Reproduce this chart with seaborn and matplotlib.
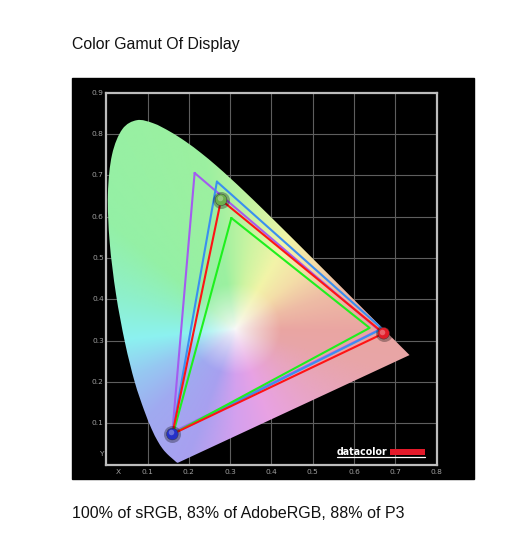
import numpy as np
import pandas as pd
import matplotlib
matplotlib.use("Agg")
import matplotlib.pyplot as plt
from matplotlib.patches import PathPatch, Rectangle
from matplotlib.path import Path
import seaborn as sns

# ---------------- data ----------------
# CIE 1931 spectral locus (x, y), 380-700 nm
locus_x = [0.1741, 0.1740, 0.1738, 0.1736, 0.1733, 0.1730, 0.1726, 0.1721, 0.1714, 0.1703,
           0.1689, 0.1669, 0.1644, 0.1611, 0.1566, 0.1510, 0.1440, 0.1355, 0.1241, 0.1096,
           0.0913, 0.0687, 0.0454, 0.0235, 0.0082, 0.0039, 0.0139, 0.0389, 0.0743, 0.1142,
           0.1547, 0.1929, 0.2296, 0.2658, 0.3016, 0.3373, 0.3731, 0.4087, 0.4441, 0.4788,
           0.5125, 0.5448, 0.5752, 0.6029, 0.6270, 0.6482, 0.6658, 0.6801, 0.6915, 0.7006,
           0.7079, 0.7140, 0.7190, 0.7230, 0.7260, 0.7283, 0.7300, 0.7311, 0.7320, 0.7334, 0.7347]
locus_y = [0.0050, 0.0050, 0.0049, 0.0049, 0.0048, 0.0048, 0.0048, 0.0048, 0.0051, 0.0058,
           0.0069, 0.0086, 0.0109, 0.0138, 0.0177, 0.0227, 0.0297, 0.0399, 0.0578, 0.0868,
           0.1327, 0.2007, 0.2950, 0.4127, 0.5384, 0.6548, 0.7502, 0.8120, 0.8338, 0.8262,
           0.8059, 0.7816, 0.7543, 0.7243, 0.6923, 0.6589, 0.6245, 0.5896, 0.5547, 0.5202,
           0.4866, 0.4544, 0.4242, 0.3965, 0.3725, 0.3514, 0.3340, 0.3197, 0.3083, 0.2993,
           0.2920, 0.2859, 0.2809, 0.2770, 0.2740, 0.2717, 0.2700, 0.2689, 0.2680, 0.2666, 0.2653]

gamut_names = ["AdobeRGB", "P3", "sRGB", "Display"]
gamut_x = {
    "AdobeRGB": [0.214, 0.660, 0.160],
    "P3":       [0.268, 0.668, 0.160],
    "sRGB":     [0.303, 0.638, 0.162],
    "Display":  [0.278, 0.672, 0.160],
}
gamut_y = {
    "AdobeRGB": [0.706, 0.326, 0.078],
    "P3":       [0.685, 0.329, 0.074],
    "sRGB":     [0.597, 0.331, 0.075],
    "Display":  [0.641, 0.318, 0.074],
}
gamut_colors = {"AdobeRGB": "#a35cf0", "P3": "#3a8ff0", "sRGB": "#1ef01e", "Display": "#ff1414"}
ball_colors = ["#6cb04c", "#e01c28", "#2430c8"]  # display green, red, blue primaries

# hue palette of the chromaticity fill (angle around white point -> RGB)
hue_angles = [0, 20, 40, 60, 80, 100, 140, 165, 185, 205, 225, 250, 270, 290, 320, 345, 360]
hue_rgb = [(234, 166, 162), (238, 188, 165), (244, 222, 168), (242, 244, 168), (205, 244, 162),
           (156, 240, 160), (148, 240, 166), (142, 240, 205), (140, 242, 240), (150, 200, 242),
           (160, 170, 240), (168, 160, 240), (212, 160, 238), (232, 162, 228), (232, 165, 195),
           (232, 165, 168), (234, 166, 162)]
white_xy = (0.3127, 0.329)

x_ticks = [0.1, 0.2, 0.3, 0.4, 0.5, 0.6, 0.7, 0.8]
y_ticks = [0.1, 0.2, 0.3, 0.4, 0.5, 0.6, 0.7, 0.8, 0.9]

title = "Color Gamut Of Display"
caption = "100% of sRGB, 83% of AdobeRGB, 88% of P3"

# ---------------- figure ----------------
sns.set_theme(style="dark")
plt.rcParams["font.family"] = ["Liberation Sans", "DejaVu Sans"]

W, H = 508, 534
fig = plt.figure(figsize=(W / 100, H / 100), dpi=100, facecolor="white")
fig.patches.append(Rectangle((72 / W, 1 - 479 / H), (474 - 72) / W, (479 - 78) / H,
                             transform=fig.transFigure, color="black", zorder=-5))

L, R, T, B = 106.3, 436.5, 92.8, 464.7
ax = fig.add_axes([L / W, 1 - B / H, (R - L) / W, (B - T) / H], zorder=2)
ax.set_facecolor("black")
ax.set_xlim(0, 0.8)
ax.set_ylim(0, 0.9)

# grid
for v in x_ticks[:-1]:
    ax.axvline(v, color="#5e5e5e", lw=0.8, zorder=0.5)
for v in y_ticks[:-1]:
    ax.axhline(v, color="#5e5e5e", lw=0.8, zorder=0.5)

# chromaticity colour field
nx, ny = 480, 540
gx, gy = np.meshgrid(np.linspace(0, 0.8, nx), np.linspace(0, 0.9, ny))
dx, dy = gx - white_xy[0], gy - white_xy[1]
ang = np.degrees(np.arctan2(dy, dx)) % 360
dist = np.hypot(dx, dy)
hr = np.array(hue_rgb, dtype=float) / 255.0
col = np.stack([np.interp(ang, hue_angles, hr[:, k]) for k in range(3)], axis=-1)
t = np.clip(dist / 0.11, 0, 1) ** 0.85
white = np.array([0.975, 0.975, 0.975])
rgb = white * (1 - t[..., None]) + col * t[..., None]
img = ax.imshow(rgb, origin="lower", extent=[0, 0.8, 0, 0.9], interpolation="bilinear",
                zorder=1, aspect="auto")

# smooth locus outline (Catmull-Rom -> cubic Bezier through the locus points)
P = np.column_stack([locus_x, locus_y])
Pe = np.vstack([P[0], P, P[-1]])
verts = [tuple(P[0])]
codes = [Path.MOVETO]
for i in range(1, len(Pe) - 2):
    p0, p1, p2, p3 = Pe[i - 1], Pe[i], Pe[i + 1], Pe[i + 2]
    c1 = p1 + (p2 - p0) / 6.0
    c2 = p2 - (p3 - p1) / 6.0
    verts += [tuple(c1), tuple(c2), tuple(p2)]
    codes += [Path.CURVE4] * 3
verts.append(tuple(P[0]))
codes.append(Path.CLOSEPOLY)
locus_path = Path(verts, codes)
patch = PathPatch(locus_path, transform=ax.transData, facecolor="none", edgecolor="none")
ax.add_patch(patch)
img.set_clip_path(patch)

# gamut triangles
rows = []
for g in gamut_names:
    xs = gamut_x[g] + [gamut_x[g][0]]
    ys = gamut_y[g] + [gamut_y[g][0]]
    for i, (a, b) in enumerate(zip(xs, ys)):
        rows.append({"gamut": g, "order": i, "x": a, "y": b})
df = pd.DataFrame(rows)
for g in gamut_names:
    sns.lineplot(data=df[df.gamut == g], x="x", y="y", sort=False, estimator=None,
                 color=gamut_colors[g], lw=1.5, ax=ax, zorder=3, legend=False)

# display primary balls
dfp = pd.DataFrame({"x": gamut_x["Display"], "y": gamut_y["Display"]})
sns.scatterplot(data=dfp, x="x", y="y", s=150, color="black", alpha=0.3, linewidth=0,
                ax=ax, zorder=4, legend=False)
ax.scatter(dfp.x, dfp.y, s=70, c=ball_colors, edgecolors="#333333", linewidths=0.3, zorder=5)
ax.scatter(dfp.x - 0.003, dfp.y + 0.004, s=16, c="white", alpha=0.3, linewidths=0, zorder=6)

# axes styling
ax.set_xlabel("")
ax.set_ylabel("")
ax.set_xticks([])
ax.set_yticks([])
for s in ax.spines.values():
    s.set_visible(True)
    s.set_color("#bdbdbd")
    s.set_linewidth(1.6)
    s.set_zorder(7)

tick_kw = dict(color="#a0a0a0", fontsize=5.4, family=["DejaVu Sans"], clip_on=False)
for v in x_ticks:
    ax.text(v, -0.011, f"{v:.1f}", ha="center", va="top", **tick_kw)
ax.text(0.03, -0.011, "X", ha="center", va="top", **tick_kw)
for v in y_ticks:
    ax.text(-0.006, v, f"{v:.1f}", ha="right", va="center", **tick_kw)
ax.text(-0.006, 0.025, "Y", ha="right", va="center", **tick_kw)

# datacolor logo
logo = ax.text(0.5585, 0.0240, "datacolor", color="white", fontsize=7.6, fontweight="bold",
               ha="left", va="baseline", family=["DejaVu Sans"], zorder=9)
fig.canvas.draw()
wpx = logo.get_window_extent().width
logo.set_fontsize(7.6 * 51.0 / wpx)
ax.add_patch(Rectangle((0.688, 0.0242), 0.085, 0.0131, color="#e41a2a", zorder=8, lw=0))
ax.plot([0.5585, 0.7726], [0.0194, 0.0194], color="white", lw=0.9, zorder=8)

fig.text(72 / W, 1 - 45 / H, title, fontsize=11.4, ha="left", va="center", color="#111111")
fig.text(72 / W, 1 - 514 / H, caption, fontsize=11.5, ha="left", va="center", color="#111111")

fig.savefig("out.png", dpi=100, facecolor="white")
